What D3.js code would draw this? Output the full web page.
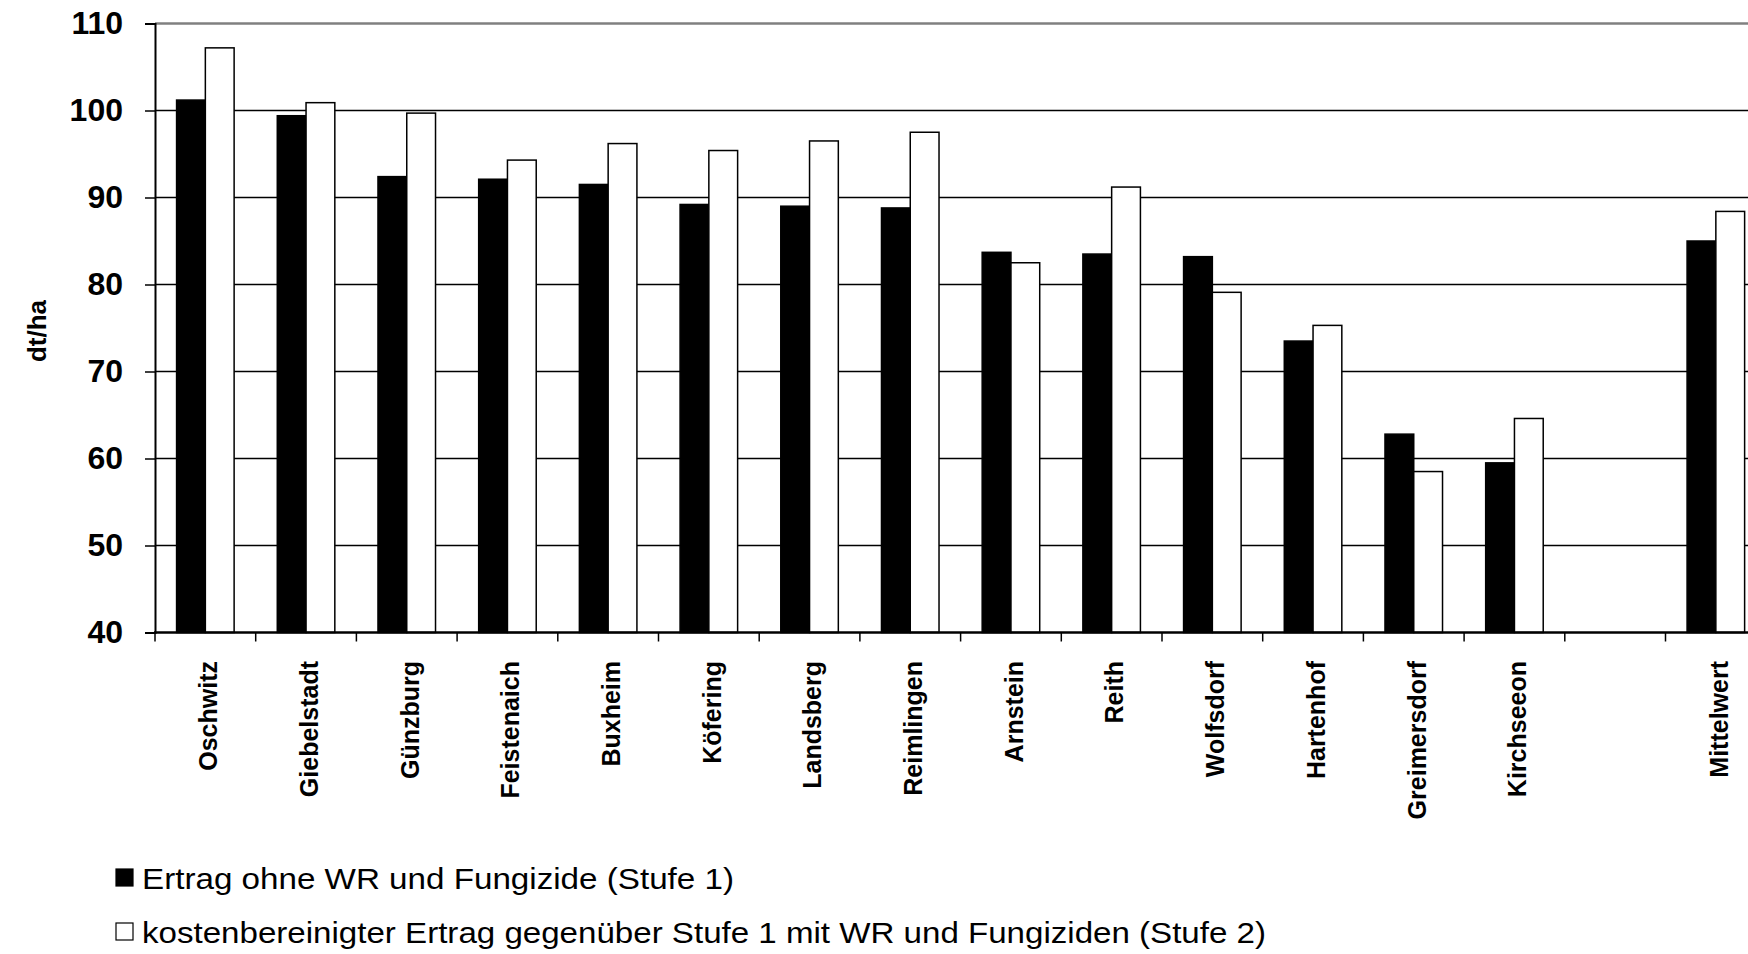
<!DOCTYPE html>
<html><head><meta charset="utf-8">
<script src="https://cdn.jsdelivr.net/npm/d3@7"></script>
<style>
body{margin:0;background:#fff;}
svg{display:block;}
text{font-family:"Liberation Sans", Arial, sans-serif;fill:#000;}
</style>
</head><body>
<svg id="chart" width="1748" height="954"></svg>
<script>
const categories = ["Oschwitz","Giebelstadt","Günzburg","Feistenaich","Buxheim","Köfering","Landsberg","Reimlingen","Arnstein","Reith","Wolfsdorf","Hartenhof","Greimersdorf","Kirchseeon","","Mittelwert"];
const stufe1 = [101.2,99.4,92.4,92.1,91.5,89.2,89.0,88.8,83.7,83.5,83.2,73.5,62.8,59.5,null,85.0];
const stufe2 = [107.2,100.9,99.7,94.3,96.2,95.4,96.5,97.5,82.5,91.2,79.1,75.3,58.5,64.6,null,88.4];
const yTicks = [40,50,60,70,80,90,100,110];
const seriesNames = ["Ertrag ohne WR und Fungizide (Stufe 1)","kostenbereinigter Ertrag gegenüber Stufe 1 mit WR und Fungiziden (Stufe 2)"];
const seriesFill = ["#000000","#ffffff"];
const yTitle = "dt/ha";

const svg = d3.select("#chart");
const left = 155, band = 100.7;
const right = left + categories.length * band;
const y = d3.scaleLinear().domain([40,110]).range([632.5,23.5]);
const x = d3.scaleBand().domain(d3.range(categories.length)).range([left,right]).paddingInner(0).paddingOuter(0);
const xs = d3.scaleBand().domain([0,1]).range([0,x.bandwidth()]).paddingInner(0).paddingOuter(0.75);

// gridlines
const g = svg.append("g");
g.selectAll("line.grid").data(yTicks.filter(t=>t>40 && t<110)).enter().append("line")
  .attr("x1",left).attr("x2",right).attr("y1",d=>y(d)).attr("y2",d=>y(d))
  .attr("stroke","#000").attr("stroke-width",1.6);
// top border
g.append("line").attr("x1",left).attr("x2",right).attr("y1",y(110)).attr("y2",y(110))
  .attr("stroke","#808080").attr("stroke-width",2.5);

// bars
const series = [stufe1, stufe2];
series.forEach((vals,si)=>{
  svg.append("g").selectAll("rect").data(vals.map((v,i)=>({v,i})).filter(d=>d.v!=null)).enter().append("rect")
    .attr("x",d=>x(d.i)+xs(si)).attr("width",xs.bandwidth())
    .attr("y",d=>y(d.v)).attr("height",d=>y(40)-y(d.v))
    .attr("fill",seriesFill[si]).attr("stroke","#000").attr("stroke-width",1.5);
});

// y axis
const yAxis = svg.append("g").attr("transform",`translate(${left},0)`)
  .call(d3.axisLeft(y).tickValues(yTicks).tickSize(10).tickPadding(22).tickFormat(d3.format("d")));
yAxis.select(".domain").attr("stroke","#000").attr("stroke-width",2);
yAxis.selectAll(".tick line").attr("stroke","#000").attr("stroke-width",1.5);
yAxis.selectAll(".tick text").attr("font-size",32).attr("font-weight","bold")
  .attr("font-family","Liberation Sans, Arial, sans-serif").attr("fill","#000");

// x axis line
svg.append("line").attr("x1",left-1).attr("x2",right).attr("y1",y(40)).attr("y2",y(40))
  .attr("stroke","#000").attr("stroke-width",2.5);
// x ticks at band boundaries
svg.append("g").selectAll("line").data(d3.range(categories.length+1)).enter().append("line")
  .attr("x1",i=>left+i*x.step()).attr("x2",i=>left+i*x.step())
  .attr("y1",y(40)).attr("y2",y(40)+9).attr("stroke","#000").attr("stroke-width",1.5);
// x labels
svg.append("g").selectAll("text").data(categories).enter().append("text")
  .attr("transform",(d,i)=>`translate(${x(i)+x.bandwidth()/2+3},661) rotate(-90)`)
  .attr("text-anchor","end").attr("dy","0.35em")
  .attr("font-size",25).attr("font-weight","bold").text(d=>d);

// y title
svg.append("text").attr("transform",`translate(37,331) rotate(-90)`)
  .attr("text-anchor","middle").attr("dy","0.35em")
  .attr("font-size",26).attr("font-weight","bold").text(yTitle);

// legend
const lg = svg.append("g");
const ly = [878, 932];
seriesNames.forEach((name,i)=>{
  lg.append("rect").attr("x",116).attr("y",ly[i]-9).attr("width",17).attr("height",17)
    .attr("fill",seriesFill[i]).attr("stroke","#000").attr("stroke-width",1.2);
  lg.append("text").attr("x",142).attr("y",ly[i]).attr("dy","0.35em")
    .attr("font-size",30).attr("textLength",i===0?592:1124).attr("lengthAdjust","spacingAndGlyphs")
    .text(name);
});
</script>
</body></html>
